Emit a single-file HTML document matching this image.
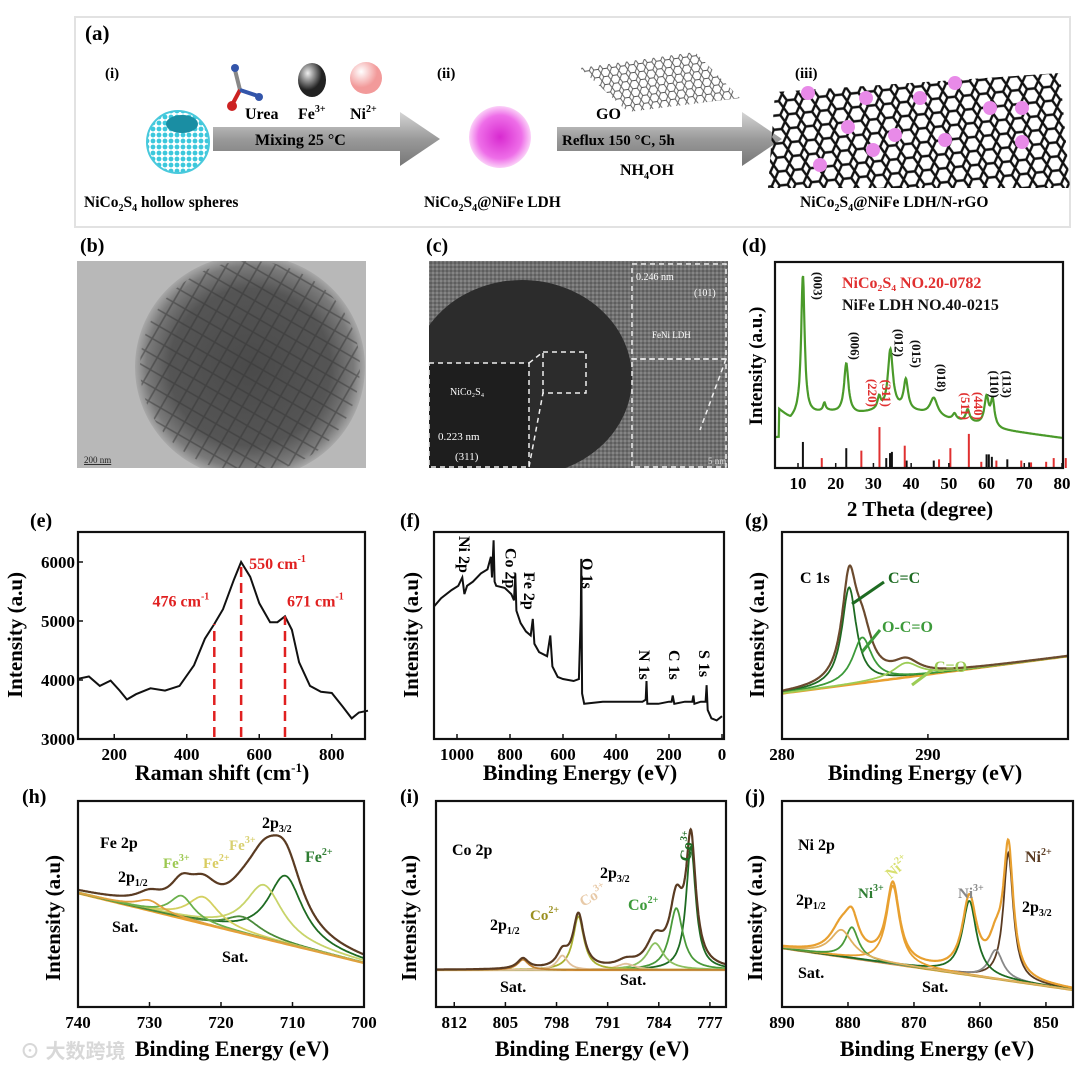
<!DOCTYPE html>
<html><head><meta charset="utf-8"><style>
body{margin:0;background:#fff}
svg{display:block;font-family:"Liberation Serif",serif;font-weight:bold}
</style></head><body>
<svg id="fig" width="1080" height="1070" viewBox="0 0 1080 1070" xmlns="http://www.w3.org/2000/svg">
<defs>
<pattern id="hex" width="16" height="14" patternUnits="userSpaceOnUse" patternTransform="rotate(-6)">
<path d="M0,7 L4,0 L12,0 L16,7 L12,14 L4,14 Z" fill="none" stroke="#111" stroke-width="2.4"/></pattern>
<pattern id="hexg" width="9" height="8" patternUnits="userSpaceOnUse" patternTransform="rotate(-8)">
<path d="M0,4 L2.2,0 L6.8,0 L9,4 L6.8,8 L2.2,8 Z" fill="none" stroke="#555" stroke-width="0.9"/></pattern>
<pattern id="cyan" width="6" height="6" patternUnits="userSpaceOnUse"><circle cx="3" cy="3" r="2.4" fill="#3cc8dc"/></pattern>
<pattern id="spiky" width="14" height="14" patternUnits="userSpaceOnUse" patternTransform="rotate(30)"><path d="M0,7 L14,7 M7,0 L7,14" stroke="#333" stroke-width="1.6" opacity="0.5"/></pattern>
<pattern id="grain" width="4" height="4" patternUnits="userSpaceOnUse"><rect width="4" height="4" fill="#707070"/><rect width="2" height="2" fill="#858585"/><rect x="2" y="2" width="2" height="2" fill="#5e5e5e"/></pattern>
<radialGradient id="pink"><stop offset="0" stop-color="#d82ad0"/><stop offset="0.7" stop-color="#ee6ee8"/><stop offset="1" stop-color="#fbd0f8"/></radialGradient>
<radialGradient id="metal" cx="0.35" cy="0.3"><stop offset="0" stop-color="#eee"/><stop offset="1" stop-color="#222"/></radialGradient>
<radialGradient id="nib" cx="0.35" cy="0.3"><stop offset="0" stop-color="#fff"/><stop offset="1" stop-color="#f29a9a"/></radialGradient>
<linearGradient id="arr" x1="0" y1="0" x2="0" y2="1"><stop offset="0" stop-color="#d5d5d5"/><stop offset="0.5" stop-color="#9a9a9a"/><stop offset="1" stop-color="#777"/></linearGradient>
<radialGradient id="tem" cx="0.5" cy="0.5" r="0.5"><stop offset="0" stop-color="#4a4a4a"/><stop offset="0.7" stop-color="#555"/><stop offset="0.9" stop-color="#7a7a7a"/><stop offset="1" stop-color="#a8a8a8"/></radialGradient>
<clipPath id="clipb"><rect x="77" y="261" width="289" height="207"/></clipPath>
<clipPath id="clipc"><rect x="429" y="261" width="299" height="207"/></clipPath>
</defs>

<!-- (a) schematic -->
<g>
<rect x="75" y="17" width="995" height="210" fill="#fff" stroke="#e2e2e2" stroke-width="2"/>
<text x="85" y="40" font-size="21">(a)</text>
<text x="105" y="78" font-size="15">(i)</text>
<text x="437" y="78" font-size="15">(ii)</text>
<text x="795" y="78" font-size="15">(iii)</text>
<circle cx="178" cy="142" r="31" fill="url(#cyan)" stroke="#49c9dc" stroke-width="2"/>
<ellipse cx="182" cy="124" rx="16" ry="9" fill="#1a8ea3"/>
<g><line x1="235" y1="70" x2="240" y2="90" stroke="#888" stroke-width="4"/><line x1="240" y1="90" x2="232" y2="105" stroke="#c22" stroke-width="4"/><line x1="240" y1="90" x2="258" y2="96" stroke="#35a" stroke-width="4"/><circle cx="235" cy="68" r="4" fill="#35a"/><circle cx="232" cy="106" r="5" fill="#c22"/><circle cx="259" cy="97" r="4" fill="#35a"/></g>
<ellipse cx="312" cy="80" rx="14" ry="17" fill="url(#metal)"/>
<circle cx="366" cy="78" r="16" fill="url(#nib)"/>
<text x="245" y="119" font-size="16">Urea</text>
<text x="298" y="119" font-size="16">Fe<tspan font-size="10" dy="-7">3+</tspan></text>
<text x="350" y="119" font-size="16">Ni<tspan font-size="10" dy="-7">2+</tspan></text>
<polygon points="213,127 400,127 400,112 440,139 400,166 400,151 213,151" fill="url(#arr)"/>
<text x="255" y="145" font-size="16">Mixing    25 °C</text>
<circle cx="500" cy="137" r="31" fill="url(#pink)"/>
<polygon points="580,68 695,52 740,98 628,112" fill="url(#hexg)"/>
<text x="596" y="119" font-size="16">GO</text>
<polygon points="557,127 742,127 742,112 782,139 742,166 742,151 557,151" fill="url(#arr)"/>
<text x="562" y="145" font-size="15">Reflux  150 °C, 5h</text>
<text x="620" y="175" font-size="16">NH<tspan font-size="10" dy="4">4</tspan><tspan dy="-4">OH</tspan></text>
<polygon points="775,92 1060,73 1070,188 768,188" fill="url(#hex)"/>
<g fill="#e88ae8">
<circle cx="808" cy="93" r="7"/><circle cx="866" cy="98" r="7"/><circle cx="920" cy="98" r="7"/><circle cx="955" cy="83" r="7"/><circle cx="990" cy="108" r="7"/><circle cx="1022" cy="108" r="7"/><circle cx="848" cy="127" r="7"/><circle cx="895" cy="135" r="7"/><circle cx="945" cy="140" r="7"/><circle cx="1022" cy="142" r="7"/><circle cx="873" cy="150" r="7"/><circle cx="820" cy="165" r="7"/></g>
<text x="84" y="207" font-size="15.5">NiCo<tspan font-size="10" dy="4">2</tspan><tspan dy="-4">S</tspan><tspan font-size="10" dy="4">4</tspan><tspan dy="-4">  hollow spheres</tspan></text>
<text x="424" y="207" font-size="15.5">NiCo<tspan font-size="10" dy="4">2</tspan><tspan dy="-4">S</tspan><tspan font-size="10" dy="4">4</tspan><tspan dy="-4">@NiFe LDH</tspan></text>
<text x="800" y="207" font-size="15.5">NiCo<tspan font-size="10" dy="4">2</tspan><tspan dy="-4">S</tspan><tspan font-size="10" dy="4">4</tspan><tspan dy="-4">@NiFe LDH/N-rGO</tspan></text>
</g>

<!-- (b) TEM -->
<g>
<text x="80" y="252" font-size="20">(b)</text>
<g clip-path="url(#clipb)">
<rect x="77" y="261" width="289" height="207" fill="#b8b8b8"/>
<ellipse cx="250" cy="367" rx="115" ry="112" fill="url(#tem)"/>
<ellipse cx="250" cy="367" rx="110" ry="106" fill="url(#spiky)"/>
</g>
<text x="84" y="463" font-size="9" font-weight="normal" fill="#222" text-decoration="underline">200 nm</text>
</g>

<!-- (c) HRTEM -->
<g>
<text x="426" y="252" font-size="20">(c)</text>
<g clip-path="url(#clipc)">
<rect x="429" y="261" width="299" height="207" fill="url(#grain)"/>
<ellipse cx="522" cy="378" rx="110" ry="98" fill="#2c2c2c"/>
<rect x="429" y="363" width="100" height="105" fill="#1e1e1e"/>
</g>
<g fill="none" stroke="#eee" stroke-width="1.5" stroke-dasharray="5,4">
<rect x="429" y="363" width="100" height="104"/><rect x="632" y="264" width="94" height="95"/><rect x="543" y="352" width="43" height="41"/><rect x="632" y="359" width="94" height="108"/><line x1="529" y1="363" x2="543" y2="352"/><line x1="529" y1="467" x2="543" y2="393"/><line x1="726" y1="359" x2="700" y2="430"/></g>
<text x="450" y="395" font-size="10" fill="#fff" font-weight="normal">NiCo₂S₄</text>
<text x="438" y="440" font-size="11" fill="#fff" font-weight="normal">0.223 nm</text>
<text x="455" y="460" font-size="11" fill="#fff" font-weight="normal">(311)</text>
<text x="636" y="280" font-size="10" fill="#fff" font-weight="normal">0.246 nm</text>
<text x="694" y="296" font-size="10" fill="#fff" font-weight="normal">(101)</text>
<text x="652" y="338" font-size="9" fill="#fff" font-weight="normal">FeNi LDH</text>
<text x="708" y="464" font-size="9" fill="#ddd" font-weight="normal">5 nm</text>
</g>

<!-- static panel labels and titles -->
<text x="742" y="252" font-size="20">(d)</text>
<text x="30" y="527" font-size="20">(e)</text>
<text x="400" y="527" font-size="20">(f)</text>
<text x="745" y="527" font-size="20">(g)</text>
<text x="22" y="803" font-size="20">(h)</text>
<text x="400" y="803" font-size="20">(i)</text>
<text x="745" y="803" font-size="20">(j)</text>

<text x="920" y="516" font-size="21" text-anchor="middle">2 Theta (degree)</text>
<text transform="translate(762,366) rotate(-90)" font-size="19" text-anchor="middle">Intensity (a.u.)</text>
<text x="222" y="780" font-size="22" text-anchor="middle">Raman shift (cm<tspan font-size="13" dy="-8">-1</tspan><tspan dy="8">)</tspan></text>
<text transform="translate(22,635) rotate(-90)" font-size="21" text-anchor="middle">Intensity (a.u)</text>
<text x="580" y="780" font-size="22" text-anchor="middle">Binding Energy (eV)</text>
<text transform="translate(418,635) rotate(-90)" font-size="21" text-anchor="middle">Intensity (a.u)</text>
<text x="925" y="780" font-size="22" text-anchor="middle">Binding Energy (eV)</text>
<text transform="translate(764,635) rotate(-90)" font-size="21" text-anchor="middle">Intensity (a.u)</text>
<text x="232" y="1056" font-size="22" text-anchor="middle">Binding Energy (eV)</text>
<text transform="translate(60,918) rotate(-90)" font-size="21" text-anchor="middle">Intensity (a.u)</text>
<text x="592" y="1056" font-size="22" text-anchor="middle">Binding Energy (eV)</text>
<text transform="translate(416,918) rotate(-90)" font-size="21" text-anchor="middle">Intensity (a.u)</text>
<text x="937" y="1056" font-size="22" text-anchor="middle">Binding Energy (eV)</text>
<text transform="translate(762,918) rotate(-90)" font-size="21" text-anchor="middle">Intensity (a.u)</text>

<g id="plots"></g>
<g id="annot"></g>
<text x="20" y="1058" font-size="20" fill="#d8d8d8" font-family="'Liberation Sans','Noto Sans CJK SC',sans-serif">⊙ 大数跨境</text>
</svg>
<script>
// ---- data ----
const xrdBgX=[5,8,10,14,18,22,26,30,36,42,50,56,64,70,80];
const xrdBgI=[410,420,416,414,412,414,414,412,410,413,420,423,430,433,438];
const xrdPeakPos=[11.3,17.0,22.8,31.5,34.5,38.6,46.0,51.5,55.0,60.0,61.6];
const xrdPeakH=[140,8,50,12,60,30,18,6,12,28,26];
const xrdPeakW=[0.55,0.4,0.7,0.5,0.8,0.7,1.2,0.6,0.6,0.7,0.6];
const refBlackPos=[11.3,22.8,33.4,34.4,34.9,38.8,46.0,60.0,60.6,61.4,65.5,71.3];
const refBlackH=[0.42,0.32,0.16,0.24,0.26,0.12,0.12,0.22,0.22,0.18,0.14,0.09];
const refRedPos=[16.3,26.8,31.6,38.3,47.4,50.4,55.3,58.6,62.6,69.2,71.8,75.8,77.8,81.0];
const refRedH=[0.16,0.28,0.66,0.36,0.14,0.32,0.55,0.1,0.12,0.12,0.09,0.1,0.16,0.16];
const xrdTicks=[10,20,30,40,50,60,70,80];
const hklLabels=["(003)","(006)","(220)","(311)","(012)","(015)","(018)","(511)","(440)","(110)","(113)"];
const hklPos=[13.0,22.8,27.5,31.2,34.5,39.2,45.8,52.2,55.6,59.8,63.2];
const hklY=[300,360,407,407,357,368,392,420,420,398,398];
const hklRed=[0,0,1,1,0,0,0,1,1,0,0];

const ramanX=[100,130,160,190,215,235,260,300,340,380,420,450,476,500,530,550,575,600,630,650,671,690,710,740,770,800,830,855,875,900];
const ramanY=[4020,4060,3900,3990,3820,3670,3760,3860,3820,3900,4250,4700,4950,5200,5700,6000,5750,5300,4980,4980,5080,4850,4300,3900,3800,3780,3550,3350,3450,3480];
const ramanTicksX=[200,400,600,800];
const ramanTicksY=[3000,4000,5000,6000];
const ramanMarks=[476,550,671];

const surveyBE=[1100,1060,1020,995,980,972,962,940,910,885,872,868,862,858,852,820,795,785,780,776,760,740,722,714,708,690,660,648,640,620,600,560,540,533,531,528,520,450,380,300,288,285,282,240,200,190,186,180,140,112,108,104,80,62,58,54,40,20,0];
const surveyI=[0.64,0.68,0.72,0.74,0.78,0.70,0.74,0.76,0.80,0.82,0.88,0.78,0.96,0.76,0.74,0.73,0.70,0.67,0.80,0.62,0.56,0.52,0.50,0.58,0.46,0.42,0.40,0.50,0.35,0.30,0.29,0.28,0.29,0.60,0.87,0.22,0.17,0.18,0.18,0.18,0.19,0.28,0.17,0.17,0.18,0.18,0.21,0.17,0.18,0.18,0.21,0.17,0.18,0.18,0.26,0.14,0.10,0.09,0.11];
const surveyTicks=[1000,800,600,400,200,0];

const c1sPos=[284.6,285.5,288.5];
const c1sAmp=[0.47,0.22,0.07];
const c1sWid=[0.6,0.8,1.1];
const c1sBase=[0.22,0.40];
const c1sTicks=[280,290];

const fePos=[711.0,714.0,717.0,722.5,725.5,730.0];
const feAmp=[0.33,0.26,0.08,0.13,0.11,0.05];
const feWid=[3.0,3.2,3.0,2.6,2.0,2.2];
const feBase=[0.553,0.214];
const feTicks=[740,730,720,710,700];

const coPos=[779.6,781.6,784.5,788.5,795.0,797.2,802.6];
const coAmp=[0.60,0.30,0.13,0.03,0.26,0.07,0.05];
const coWid=[0.8,1.1,1.4,1.5,0.9,0.9,0.9];
const coBase=[0.18,0.18];
const coTicks=[812,805,798,791,784,777];

const niPos=[855.7,857.6,861.6,873.2,879.4,881.0];
const niAmp=[0.62,0.14,0.36,0.38,0.15,0.13];
const niWid=[0.9,1.3,1.3,1.2,1.2,2.0];
const niBase=[0.286,0.083];
const niTicks=[890,880,870,860,850];

// ---- helpers ----
const NS="http://www.w3.org/2000/svg";
const plots=document.getElementById('plots');
const annot=document.getElementById('annot');
function mk(tag,attrs,name,parent){
  const el=document.createElementNS(NS,tag);
  for(const k in attrs) el.setAttribute(k,attrs[k]);
  
  
  (parent||plots).appendChild(el);
  return el;
}
function lin(d0,d1,r0,r1){return v=>r0+(v-d0)*(r1-r0)/(d1-d0);}
function txt(x,y,s,size,name,opts){
  const t=mk('text',Object.assign({x:x,y:y,'font-size':size},opts||{}),name,annot);
  t.textContent=s; return t;
}
function frame(b,name){
  mk('rect',{x:b.x0,y:b.y0,width:b.x1-b.x0,height:b.y1-b.y0,fill:'none',stroke:'#111','stroke-width':2.2},name);
}
function xticks(ticks,sx,b,name){
  ticks.forEach(t=>{
    const x=sx(t);
    mk('line',{x1:x,x2:x,y1:b.y1,y2:b.y1-5,stroke:'#111','stroke-width':1.5},name+'-tick');
    txt(x,b.y1+21,String(t),17,name+'-tick-label',{'text-anchor':'middle'});
  });
}
function lor(x,c,a,w){return a/(1+((x-c)/w)*((x-c)/w));}
function interp(xs,ys,x){
  for(let i=0;i<xs.length-1;i++){
    const a=xs[i],b=xs[i+1];
    if((x-a)*(x-b)<=0){const t=(x-a)/(b-a||1);return ys[i]+t*(ys[i+1]-ys[i]);}
  }
  return ys[ys.length-1];
}
function pathFrom(fn,d0,d1,sx,sy,n){
  let p='';
  for(let i=0;i<=n;i++){const x=d0+(d1-d0)*i/n;p+=(i?'L':'M')+sx(x).toFixed(1)+','+sy(fn(x)).toFixed(1);}
  return p;
}

// ---- (d) XRD ----
(function(){
  const b={x0:775,x1:1063,y0:262,y1:468};
  const sx=lin(10,80,798,1062);
  const xrd=x=>interp(xrdBgX,xrdBgI,x)-xrdPeakPos.reduce((s,c,i)=>s+lor(x,c,xrdPeakH[i],xrdPeakW[i]),0);
  mk('path',{d:pathFrom(xrd,4,80,sx,y=>y,600),fill:'none',stroke:'#4a9a2a','stroke-width':2.2},'xrd-pattern');
  const sh=lin(0,1,468,406);
  refBlackPos.forEach((p,i)=>mk('line',{x1:sx(p),x2:sx(p),y1:468,y2:sh(refBlackH[i]),stroke:'#111','stroke-width':2},'ref-ldh-stick'));
  refRedPos.forEach((p,i)=>mk('line',{x1:sx(p),x2:sx(p),y1:468,y2:sh(refRedH[i]),stroke:'#e03030','stroke-width':2},'ref-nico2s4-stick'));
  frame(b,'xrd-frame');
  xticks(xrdTicks,sx,b,'xrd-x');
  hklLabels.forEach((l,i)=>{
    const x=sx(hklPos[i]);
    txt(0,0,l,13,'hkl-label',{transform:'translate('+(x+4)+','+hklY[i]+') rotate(90)',fill:hklRed[i]?'#e03030':'#111','text-anchor':'end'});
  });
  txt(842,288,'NiCo₂S₄ NO.20-0782',16,'legend-nico2s4',{fill:'#e03030'});
  txt(842,310,'NiFe LDH NO.40-0215',16,'legend-nife-ldh',{fill:'#111'});
})();

// ---- (e) Raman ----
(function(){
  const b={x0:78,x1:365,y0:532,y1:739};
  const sx=lin(100,900,78,368);
  const sy=lin(3000,6000,739,562);
  let d='';
  ramanX.forEach((x,i)=>{d+=(i?'L':'M')+sx(x).toFixed(1)+','+sy(ramanY[i]).toFixed(1);});
  mk('path',{d:d,fill:'none',stroke:'#111','stroke-width':2},'raman-spectrum');
  ramanMarks.forEach(m=>{
    const yv=interp(ramanX,ramanY,m);
    mk('line',{x1:sx(m),x2:sx(m),y1:b.y1-2,y2:sy(yv),stroke:'#e02020','stroke-width':2.5,'stroke-dasharray':'10,6'},'raman-peak-marker');
  });
  frame(b,'raman-frame');
  xticks(ramanTicksX,sx,b,'raman-x');
  ramanTicksY.forEach(t=>{
    mk('line',{x1:b.x0,x2:b.x0+5,y1:sy(t),y2:sy(t),stroke:'#111','stroke-width':1.5},'raman-y-tick');
    txt(b.x0-3,sy(t)+6,String(t),17,'raman-y-tick-label',{'text-anchor':'end'});
  });
  txt(sx(476)-5,sy(5250),'476 cm',16,'label-476',{fill:'#e02020','text-anchor':'end'}).innerHTML='476 cm<tspan font-size="10" dy="-7">-1</tspan>';
  txt(sx(550)+8,sy(5880),'',16,'label-550',{fill:'#e02020'}).innerHTML='550 cm<tspan font-size="10" dy="-7">-1</tspan>';
  txt(sx(671)+2,sy(5250),'',16,'label-671',{fill:'#e02020'}).innerHTML='671 cm<tspan font-size="10" dy="-7">-1</tspan>';
})();

// ---- (f) survey ----
(function(){
  const b={x0:434,x1:724,y0:532,y1:739};
  const sx=lin(1000,0,457,722);
  const sy=lin(0,1,739,532);
  let d='';
  surveyBE.forEach((x,i)=>{d+=(i?'L':'M')+Math.max(b.x0,sx(x)).toFixed(1)+','+sy(surveyI[i]).toFixed(1);});
  mk('path',{d:d,fill:'none',stroke:'#111','stroke-width':2},'xps-survey');
  frame(b,'survey-frame');
  xticks(surveyTicks,sx,b,'survey-x');
  const labs=[['Ni 2p',970,536],['Co 2p',795,548],['Fe 2p',725,572],['O 1s',505,558],['N 1s',290,650],['C 1s',177,650],['S 1s',64,650]];
  labs.forEach(l=>txt(0,0,l[0],16,'survey-peak-label',{transform:'translate('+(sx(l[1])-6)+','+l[2]+') rotate(90)'}));
})();

// ---- generic XPS fit ----
function xpsFit(o){
  const b=o.box;
  const sx=lin(o.d0,o.d1,b.x0,b.x1);
  const sy=lin(0,1,b.y1,b.y0);
  const base=x=>o.base[0]+(o.base[1]-o.base[0])*(x-o.d0)/(o.d1-o.d0);
  mk('path',{d:pathFrom(base,o.d0,o.d1,sx,sy,100),fill:'none',stroke:'#e8a030','stroke-width':2.5},o.name+'-background');
  o.pos.forEach((c,i)=>{
    const f=x=>base(x)+lor(x,c,o.amp[i],o.wid[i]);
    mk('path',{d:pathFrom(f,o.d0,o.d1,sx,sy,400),fill:'none',stroke:o.colors[i],'stroke-width':1.8},o.name+'-component');
  });
  const env=x=>base(x)+o.pos.reduce((s,c,i)=>s+lor(x,c,o.amp[i],o.wid[i]),0);
  mk('path',{d:pathFrom(env,o.d0,o.d1,sx,sy,600),fill:'none',stroke:o.envColor,'stroke-width':2.2},o.name+'-envelope');
  frame(b,o.name+'-frame');
  xticks(o.ticks,sx,b,o.name+'-x');
  return {sx,sy};
}

// (g) C 1s
(function(){
  xpsFit({name:'c1s',box:{x0:782,x1:1068,y0:532,y1:739},d0:280,d1:299.6,pos:c1sPos,amp:c1sAmp,wid:c1sWid,base:c1sBase,
    colors:['#1e6b22','#3c9a3a','#9ccc55'],envColor:'#6b4a2e',ticks:c1sTicks});
  txt(800,583,'C 1s',16,'c1s-title');
  txt(888,583,'C=C',16,'label-cc',{fill:'#1e6b22'});
  txt(882,632,'O-C=O',16,'label-oco',{fill:'#3c9a3a'});
  txt(934,672,'C=O',16,'label-co',{fill:'#9ccc55'});
  mk('line',{x1:852,y1:604,x2:884,y2:582,stroke:'#1e6b22','stroke-width':3},'arrow-cc',annot);
  mk('line',{x1:862,y1:652,x2:880,y2:630,stroke:'#3c9a3a','stroke-width':3},'arrow-oco',annot);
  mk('line',{x1:912,y1:685,x2:932,y2:670,stroke:'#9ccc55','stroke-width':3},'arrow-co',annot);
})();

// (h) Fe 2p
(function(){
  xpsFit({name:'fe2p',box:{x0:78,x1:364,y0:801,y1:1007},d0:740,d1:700,pos:fePos,amp:feAmp,wid:feWid,base:feBase,
    colors:['#1e6b22','#c8d46a','#4a8a3a','#d4d060','#6ab04c','#e0a040'],envColor:'#5a3b22',ticks:feTicks});
  txt(100,848,'Fe 2p',16,'fe-title');
  txt(118,882,'',16,'fe-2p12').innerHTML='2p<tspan font-size="10" dy="4">1/2</tspan>';
  txt(262,828,'',16,'fe-2p32').innerHTML='2p<tspan font-size="10" dy="4">3/2</tspan>';
  txt(305,862,'',16,'fe2-label',{fill:'#2e7d32'}).innerHTML='Fe<tspan font-size="10" dy="-7">2+</tspan>';
  txt(163,868,'',15,'fe3-label',{fill:'#9cc850'}).innerHTML='Fe<tspan font-size="10" dy="-7">3+</tspan>';
  txt(203,868,'',15,'fe2b-label',{fill:'#d8cc60'}).innerHTML='Fe<tspan font-size="10" dy="-7">2+</tspan>';
  txt(229,850,'',15,'fe3b-label',{fill:'#d8d070'}).innerHTML='Fe<tspan font-size="10" dy="-7">3+</tspan>';
  txt(112,932,'Sat.',16,'fe-sat1');
  txt(222,962,'Sat.',16,'fe-sat2');
})();

// (i) Co 2p
(function(){
  xpsFit({name:'co2p',box:{x0:436,x1:726,y0:801,y1:1007},d0:814.5,d1:774.8,pos:coPos,amp:coAmp,wid:coWid,base:coBase,
    colors:['#1e6b22','#4a9a3a','#8cc060','#e0c09a','#a8b030','#e0c09a','#c08030'],envColor:'#5a3b22',ticks:coTicks});
  txt(452,855,'Co 2p',16,'co-title');
  txt(600,878,'',16,'co-2p32').innerHTML='2p<tspan font-size="10" dy="4">3/2</tspan>';
  txt(490,930,'',16,'co-2p12').innerHTML='2p<tspan font-size="10" dy="4">1/2</tspan>';
  txt(678,852,'',16,'co3-label',{fill:'#1e6b22',transform:'rotate(-80 690 850)'}).innerHTML='Co<tspan font-size="10" dy="-7">3+</tspan>';
  txt(628,910,'',16,'co2-label',{fill:'#3c9a3a'}).innerHTML='Co<tspan font-size="10" dy="-7">2+</tspan>';
  txt(530,920,'',15,'co2b-label',{fill:'#9a9020'}).innerHTML='Co<tspan font-size="10" dy="-7">2+</tspan>';
  txt(578,902,'',15,'co3b-label',{fill:'#e8caa8',transform:'rotate(-30 590 895)'}).innerHTML='Co<tspan font-size="10" dy="-7">3+</tspan>';
  txt(500,992,'Sat.',16,'co-sat1');
  txt(620,985,'Sat.',16,'co-sat2');
})();

// (j) Ni 2p
(function(){
  xpsFit({name:'ni2p',box:{x0:782,x1:1073,y0:801,y1:1007},d0:890,d1:845.9,pos:niPos,amp:niAmp,wid:niWid,base:niBase,
    colors:['#5a3b22','#888888','#1e6b22','#e8a030','#4a9a3a','#e0b060'],envColor:'#e8a030',ticks:niTicks});
  txt(798,850,'Ni 2p',16,'ni-title');
  txt(796,905,'',16,'ni-2p12').innerHTML='2p<tspan font-size="10" dy="4">1/2</tspan>';
  txt(1022,912,'',16,'ni-2p32').innerHTML='2p<tspan font-size="10" dy="4">3/2</tspan>';
  txt(1025,862,'',16,'ni2-label',{fill:'#5a3b22'}).innerHTML='Ni<tspan font-size="10" dy="-7">2+</tspan>';
  txt(858,898,'',15,'ni3-label',{fill:'#2e7d32'}).innerHTML='Ni<tspan font-size="10" dy="-7">3+</tspan>';
  txt(885,872,'',15,'ni2b-label',{fill:'#d8e070',transform:'rotate(-40 898 868)'}).innerHTML='Ni<tspan font-size="10" dy="-7">2+</tspan>';
  txt(958,898,'',15,'ni3b-label',{fill:'#888'}).innerHTML='Ni<tspan font-size="10" dy="-7">3+</tspan>';
  txt(798,978,'Sat.',16,'ni-sat1');
  txt(922,992,'Sat.',16,'ni-sat2');
})();
</script>
</body></html>
